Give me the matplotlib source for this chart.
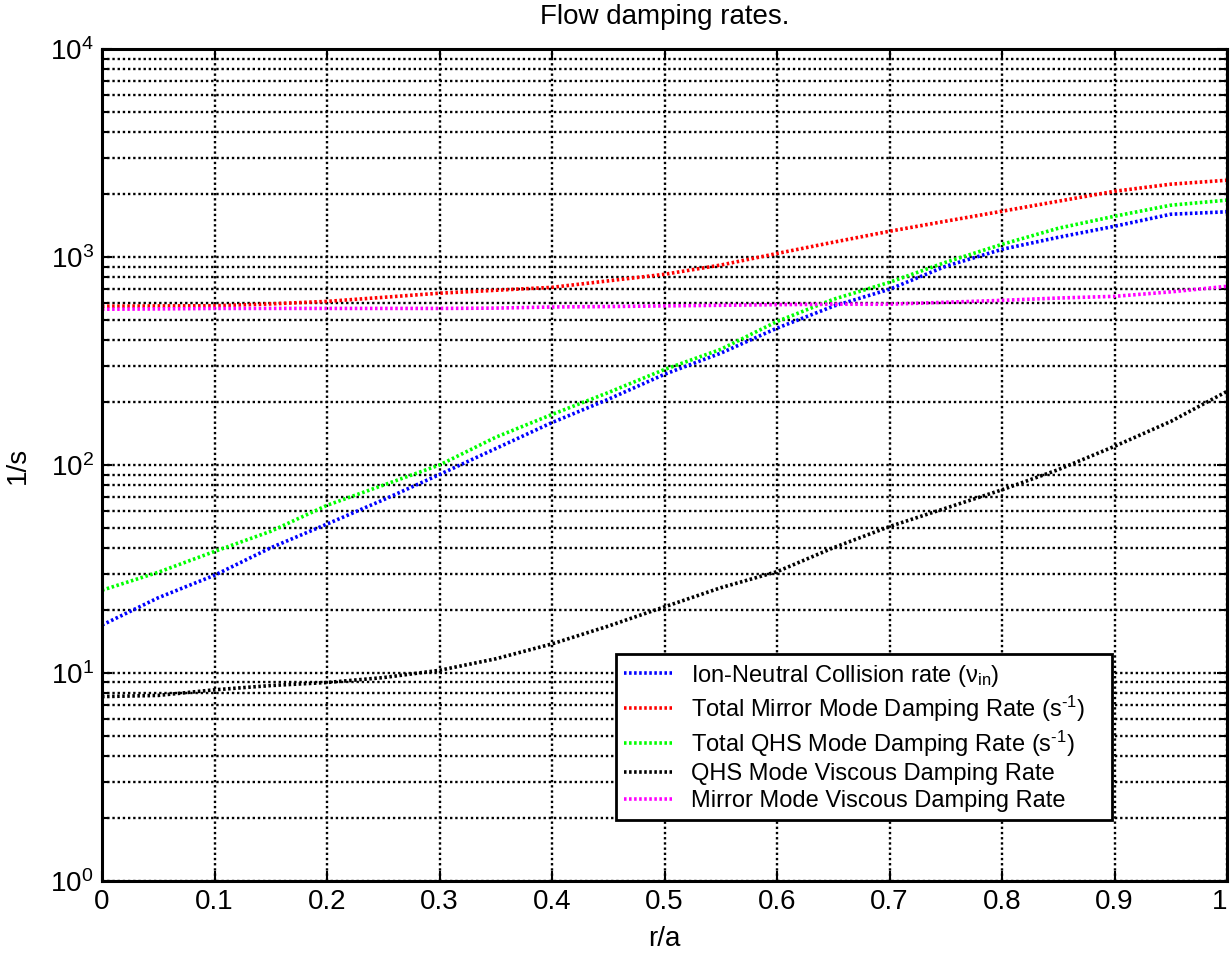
import matplotlib
matplotlib.use('Agg')
import matplotlib.pyplot as plt
import numpy as np

plt.rcParams['font.family'] = ['Liberation Sans', 'DejaVu Sans']
plt.rcParams['mathtext.fontset'] = 'custom'
plt.rcParams['mathtext.rm'] = 'Liberation Sans'
plt.rcParams['mathtext.it'] = 'Liberation Sans:italic'
plt.rcParams['mathtext.default'] = 'regular'

# radial position r/a
r = [0.0, 0.05, 0.1, 0.15, 0.2, 0.25, 0.3, 0.35, 0.4, 0.45, 0.5,
     0.55, 0.6, 0.65, 0.7, 0.75, 0.8, 0.85, 0.9, 0.95, 1.0]

# damping rates, 1/s
nu_in = [17, 23, 29.5, 40, 52, 68, 90, 120, 160, 207, 273,
         345, 455, 580, 700, 903, 1089, 1244, 1406, 1606, 1650]
mirror_total = [580, 582, 583, 595, 612, 640, 670, 692, 715, 768, 826,
                915, 1040, 1178, 1330, 1487, 1660, 1855, 2071, 2240, 2340]
qhs_total = [25, 30.5, 38.4, 48, 64, 80, 100, 136, 175, 223, 288,
             360, 490, 626, 756, 944, 1151, 1375, 1571, 1775, 1877]
qhs_visc = [7.7, 7.8, 8.3, 8.7, 9.0, 9.5, 10.3, 11.7, 13.8, 16.8, 20.8,
            25.7, 30.7, 40, 50.6, 62, 76, 95, 123, 162, 226]
mirror_visc = [561, 563, 566, 566, 566, 566, 566, 568, 575, 578, 582,
               586, 590, 593, 593, 606, 619, 635, 647, 680, 723]

xticks = [0, 0.1, 0.2, 0.3, 0.4, 0.5, 0.6, 0.7, 0.8, 0.9, 1]
xtick_labels = ['0', '0.1', '0.2', '0.3', '0.4', '0.5', '0.6', '0.7', '0.8', '0.9', '1']

fig = plt.figure(figsize=(12.32, 9.56), dpi=100)
ax = fig.add_axes([0.0828, 0.0785, 0.9132, 0.8702])

dots = (0, (0.7, 0.7))
lw = 2.6
ax.plot(r, nu_in, color=(0, 0, 1), linestyle=dots, lw=lw,
        label=r'Ion-Neutral Collision rate ($\nu_{in}$)')
ax.plot(r, mirror_total, color=(1, 0, 0), linestyle=dots, lw=lw,
        label=r'Total Mirror Mode Damping Rate (s$^{\text{-}1}$)')
ax.plot(r, qhs_total, color=(0, 1, 0), linestyle=dots, lw=lw,
        label=r'Total QHS Mode Damping Rate (s$^{\text{-}1}$)')
ax.plot(r, qhs_visc, color='black', linestyle=dots, lw=lw,
        label='QHS Mode Viscous Damping Rate')
ax.plot(r, mirror_visc, color=(1, 0, 1), linestyle=dots, lw=lw,
        label='Mirror Mode Viscous Damping Rate')

ax.set_yscale('log')
ax.set_xlim(0, 1)
ax.set_ylim(1, 1e4)
ax.set_xticks(xticks)
ax.set_xticklabels(xtick_labels)
# right-align the last x label so it stays inside the figure
ax.get_xticklabels()[-1].set_horizontalalignment('right')

ax.grid(True, which='major', color='black', linestyle=(0, (1, 1.2)), lw=1.7)
ax.grid(True, which='minor', axis='y', color='black', linestyle=(0, (1, 1.2)), lw=1.7)

ax.tick_params(which='both', direction='in', top=True, right=True,
               labelsize=20, width=1.5, pad=6)
ax.tick_params(which='major', length=7)
ax.tick_params(which='minor', length=4)
for s in ax.spines.values():
    s.set_linewidth(2.2)

ax.set_xlabel('r/a', fontsize=20, labelpad=8)
ax.set_ylabel('1/s', fontsize=20, labelpad=14)
ax.set_title('Flow damping rates.', fontsize=20, pad=18)

leg = ax.legend(loc='lower left', bbox_to_anchor=(0.457, 0.073, 0.441, 0.208),
                mode='expand', fontsize=17, frameon=True, fancybox=False,
                edgecolor='black', handlelength=2.0, handletextpad=0.8,
                labelspacing=0.2, borderpad=0.35, borderaxespad=0)
leg.get_frame().set_linewidth(2)
leg.get_frame().set_alpha(1)

fig.savefig('out.png', dpi=100)
